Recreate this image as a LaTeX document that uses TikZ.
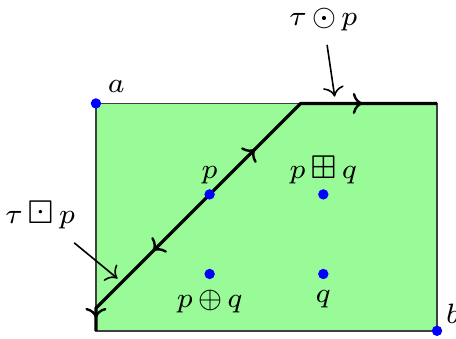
\documentclass[tikz,border=0pt]{standalone}
\usepackage{amsmath,amssymb}
\usetikzlibrary{arrows.meta,decorations.markings,calc,positioning}
\definecolor{palegreen}{RGB}{152,251,152}
\medmuskip=2.5mu

\begin{document}
\begin{tikzpicture}[scale=1.0,font=\fontsize{7.5}{9}\selectfont,
    dot/.style={circle,fill=blue,inner sep=0pt,minimum size=2.6pt},
    twoarrows/.style 2 args={decoration={markings,
        mark=at position #1 with {\arrow[scale=0.75]{>}},
        mark=at position #2 with {\arrow[scale=0.75]{>}}},postaction={decorate}}]
  \useasboundingbox (-0.844,-0.07) rectangle (3.167,2.91);
  \fill[palegreen] (0,0) rectangle (3,2);
  \draw[thin,black!75] (0,0) rectangle (3,2);
  \coordinate (pc) at (1,1.2);
  \coordinate (up) at (1.8,2);
  \coordinate (dn) at (0,0.2);
  % the two paths out of p
  \draw[thick,line join=round,twoarrows={0.243}{0.72}] (pc) -- (up) -- (3,2);
  \draw[thick,line join=round,twoarrows={0.438}{0.93}] (pc) -- (dn) -- (0,0);
  % points
  \node[dot] (a) at (0,2) {};
  \node[dot] (b) at (3,0) {};
  \node[dot] (p) at (pc) {};
  \node[dot] (pbq) at (2,1.2) {};
  \node[dot] (poq) at (1,0.5) {};
  \node[dot] (q) at (2,0.5) {};
  \node at (0.18,2.15) {$a$};
  \node at (3.14,0.15) {$b$};
  \node[above=-2.5pt of p] {$p$};
  \node[above=-2.5pt of pbq] {$p\boxplus q$};
  \node[below=-1pt of poq] {$p\oplus q$};
  \node[below=-1pt of q] {$q$};
  % labels of the paths
  \node (lodot) at (2.0,2.74) {$\tau\odot p$};
  \node (lboxdot) at (-0.49,1.02) {$\tau\boxdot p$};
  \coordinate (t1) at (2.1,2.06);
  \coordinate (t2) at (0.19,0.46);
  \draw[->,thin] (lodot) -- (t1);
  \draw[->,thin] (lboxdot) -- (t2);
\end{tikzpicture}
\end{document}
